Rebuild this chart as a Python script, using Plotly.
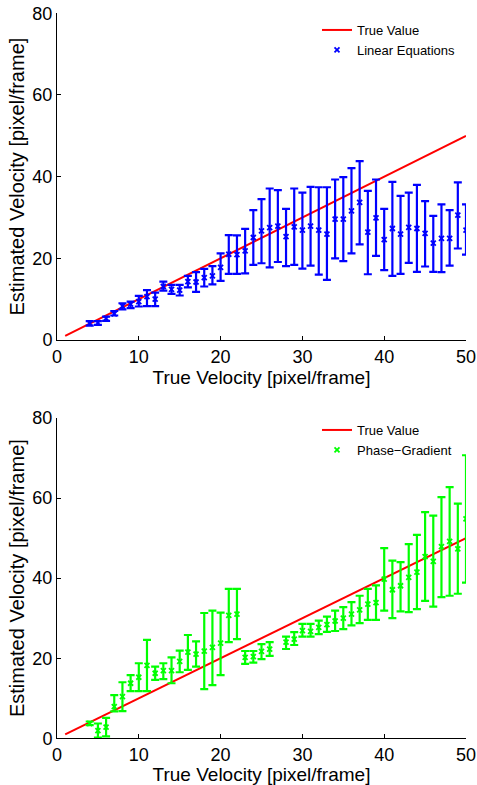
import numpy as np
import plotly.graph_objects as go

# ---------------- data ----------------
true_x = [1, 50]
true_y = [1, 50]

# Top panel: Linear Equations
lin_x = list(range(4, 51))
lin_center = [4.1, 4.2, 5.3, 6.4, 8.3, 8.8, 9.4, 10.6, 10.0, 13.1, 12.4, 12.2, 14.3, 14.2, 15.3, 15.7,
              17.8, 21.0, 20.9, 21.8, 25.1, 26.7, 27.5, 27.9, 25.3, 27.7, 26.9, 27.9, 26.9, 25.9,
              29.6, 29.6, 31.6, 33.7, 26.4, 29.9, 24.6, 27.3, 25.9, 27.6, 27.3, 26.1, 23.7, 24.9,
              24.9, 30.6, 26.9]
lin_upper = [4.6, 4.6, 5.7, 7.1, 9.0, 9.4, 10.8, 12.2, 11.6, 14.3, 13.5, 13.5, 15.7, 16.6, 17.4, 18.1,
             21.2, 25.7, 25.6, 27.2, 31.8, 34.5, 37.1, 36.7, 32.1, 37.1, 36.1, 37.5, 37.4, 37.4,
             39.3, 39.9, 42.1, 43.8, 36.5, 39.3, 32.1, 38.7, 35.3, 36.1, 38.0, 34.0, 30.4, 33.2,
             31.8, 38.6, 33.2]
lin_lower = [3.5, 3.7, 4.7, 6.0, 7.5, 7.8, 8.2, 8.3, 8.3, 12.1, 11.3, 10.9, 12.9, 11.8, 13.1, 13.6,
             14.5, 16.2, 16.2, 16.3, 18.4, 18.8, 17.8, 19.1, 18.1, 18.4, 17.5, 18.2, 16.0, 14.7,
             20.0, 19.3, 21.2, 23.4, 16.1, 20.6, 17.1, 15.7, 16.2, 18.9, 16.7, 18.0, 16.7, 16.6,
             18.2, 22.4, 20.9]

# Bottom panel: Phase-Gradient (no estimate at 27)
pg_x = [4, 5, 6, 7, 8, 9, 10, 11, 12, 13, 14, 15, 16, 17, 18, 19, 20, 21, 22, 23, 24, 25, 26,
        28, 29, 30, 31, 32, 33, 34, 35, 36, 37, 38, 39, 40, 41, 42, 43, 44, 45, 46, 47, 48, 49, 50]
pg_center = [3.7, 1.9, 2.8, 7.9, 10.4, 13.75, 15.25, 18.2, 16.25, 16.9, 16.9, 19.2, 21.5, 21.0,
             21.8, 22.7, 23.75, 30.7, 31.0, 20.2, 20.4, 21.7, 22.3,
             24.0, 24.75, 26.9, 26.7, 27.7, 28.4, 29.3, 30.0, 31.0, 32.1, 33.5, 33.9, 39.75, 37.1,
             38.1, 40.2, 41.5, 45.4, 44.2, 47.9, 49.2, 47.3, 54.8]
pg_upper = [4.2, 3.7, 5.1, 10.8, 14.0, 15.8, 18.75, 24.6, 17.9, 18.75, 20.2, 21.9, 25.8, 24.2,
            31.3, 31.9, 31.4, 37.3, 37.3, 21.8, 21.8, 23.5, 24.0,
            25.4, 26.5, 28.6, 28.6, 29.4, 30.4, 31.9, 32.75, 34.0, 35.6, 37.3, 38.2, 47.5, 44.4,
            44.0, 48.5, 50.8, 56.5, 55.6, 60.25, 62.75, 58.6, 70.7]
pg_lower = [3.3, 0.2, 0.5, 6.7, 6.8, 11.8, 11.8, 11.8, 14.6, 14.8, 13.75, 16.5, 17.1, 17.9,
            12.3, 13.3, 15.8, 24.0, 24.75, 18.6, 18.9, 19.8, 20.6,
            22.3, 23.3, 25.4, 25.4, 26.0, 26.6, 26.8, 27.25, 28.2, 28.75, 29.6, 29.6, 31.9, 30.0,
            31.7, 31.5, 32.25, 34.3, 32.9, 35.25, 35.6, 36.1, 38.9]

x_ticks = [0, 10, 20, 30, 40, 50]
y_ticks = [0, 20, 40, 60, 80]

# ---------------- figure ----------------
W, H = 477, 785
FONT = "Liberation Sans, Arial, Helvetica, sans-serif"


def errs(center, upper, lower):
    c = np.array(center)
    return (np.array(upper) - c).tolist(), (c - np.array(lower)).tolist()


fig = go.Figure()

# top panel
fig.add_trace(go.Scatter(x=true_x, y=true_y, mode="lines", name="True Value",
                         line=dict(color="#FF0000", width=2), xaxis="x", yaxis="y",
                         legend="legend"))
up, dn = errs(lin_center, lin_upper, lin_lower)
fig.add_trace(go.Scatter(x=lin_x, y=lin_center, mode="markers", name="Linear Equations",
                         marker=dict(symbol="x-thin", size=5, color="#0000FF",
                                     line=dict(width=1.8, color="#0000FF")),
                         error_y=dict(type="data", array=up, arrayminus=dn, symmetric=False,
                                      color="#0000FF", thickness=2.2, width=4),
                         xaxis="x", yaxis="y", legend="legend"))

# bottom panel
fig.add_trace(go.Scatter(x=true_x, y=true_y, mode="lines", name="True Value",
                         line=dict(color="#FF0000", width=2), xaxis="x2", yaxis="y2",
                         legend="legend2"))
up2, dn2 = errs(pg_center, pg_upper, pg_lower)
fig.add_trace(go.Scatter(x=pg_x, y=pg_center, mode="markers", name="Phase\u2212Gradient",
                         marker=dict(symbol="x-thin", size=5, color="#00FF00",
                                     line=dict(width=1.8, color="#00FF00")),
                         error_y=dict(type="data", array=up2, arrayminus=dn2, symmetric=False,
                                      color="#00FF00", thickness=2.2, width=4),
                         xaxis="x2", yaxis="y2", legend="legend2"))

x0, x1 = 57 / W, 466 / W
top_dom = [1 - 340 / H, 1 - 13.3 / H]
bot_dom = [1 - 738.3 / H, 1 - 418 / H]

axis_common = dict(showgrid=False, zeroline=False, showline=True, linecolor="black",
                   linewidth=1, ticks="inside", ticklen=4, tickcolor="black",
                   tickfont=dict(size=18, color="black", family=FONT), mirror=False,
                   automargin=False)

xtitle = dict(text="True Velocity [pixel/frame]", font=dict(size=19, color="black", family=FONT),
              standoff=0)
ytitle = dict(text="Estimated Velocity [pixel/frame]",
              font=dict(size=20, color="black", family=FONT), standoff=2)

fig.update_layout(
    width=W, height=H,
    margin=dict(l=0, r=0, t=0, b=0, autoexpand=False),
    paper_bgcolor="white", plot_bgcolor="white",
    font=dict(family=FONT, color="black"),
    xaxis=dict(domain=[x0, x1], range=[0, 50], tickvals=x_ticks, anchor="y",
               title=xtitle, **axis_common),
    yaxis=dict(domain=top_dom, range=[0, 80], tickvals=y_ticks, anchor="x",
               title=ytitle, **axis_common),
    xaxis2=dict(domain=[x0, x1], range=[0, 50], tickvals=x_ticks, anchor="y2",
                title=xtitle, **axis_common),
    yaxis2=dict(domain=bot_dom, range=[0, 80], tickvals=y_ticks, anchor="x2",
                title=ytitle, **axis_common),
    legend=dict(x=317 / W, y=1 - 15 / H, xanchor="left", yanchor="top",
                bgcolor="rgba(0,0,0,0)", borderwidth=0,
                font=dict(size=13, family=FONT, color="black"), tracegroupgap=0),
    legend2=dict(x=317 / W, y=1 - 415 / H, xanchor="left", yanchor="top",
                 bgcolor="rgba(0,0,0,0)", borderwidth=0,
                 font=dict(size=13, family=FONT, color="black"), tracegroupgap=0),
    showlegend=True,
)

fig.write_html("out.html", config={"displayModeBar": False},
               post_script="document.body.style.margin='0';document.body.style.overflow='hidden';")
